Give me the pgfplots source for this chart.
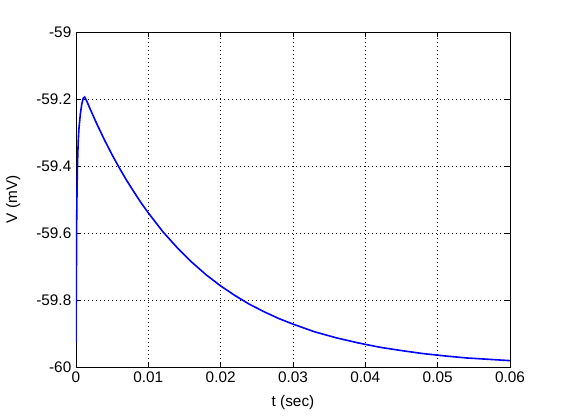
\documentclass[border=0pt]{standalone}
\usepackage{fontspec}
\setmainfont{Liberation Sans}
\usepackage{pgfplots}
\pgfplotsset{compat=1.18}
\begin{document}
\begin{tikzpicture}[x=1pt,y=1pt]
\path[use as bounding box] (0,0) rectangle (420.75,314.25);
\begin{axis}[
  at={(57pt,39pt)}, anchor=south west,
  scale only axis,
  width=325.5pt, height=251.25pt,
  xmin=0, xmax=0.06, ymin=-60, ymax=-59,
  xtick={0,0.01,0.02,0.03,0.04,0.05,0.06},
  xticklabels={0,0.01,0.02,0.03,0.04,0.05,0.06},
  ytick={-60,-59.8,-59.6,-59.4,-59.2,-59},
  yticklabels={-60,-59.8,-59.6,-59.4,-59.2,-59},
  scaled x ticks=false,
  tick align=inside,
  major tick length=3.5pt,
  tick style={black, line width=0.5pt},
  axis line style={black, line width=0.6pt},
  grid=major,
  major grid style={black, line width=0.6pt, dash pattern=on 0.75pt off 2.25pt},
  tick label style={font=\fontsize{11.5}{13}\selectfont},
  label style={font=\fontsize{11.5}{13}\selectfont},
  xlabel={t (sec)},
  ylabel={V (mV)},
  xlabel style={at={(axis description cs:0.5,-0.107)}, anchor=center},
  ylabel style={at={(axis description cs:-0.145,0.5)}, anchor=center},
  /pgf/number format/assume math mode=true,
]
\addplot[blue, line width=1.2pt] coordinates {
(0,-59.925) (0.00003,-59.80) (0.00005,-59.75) (0.00008,-59.62) (0.0001,-59.55)
(0.00015,-59.46) (0.0002,-59.40) (0.0003,-59.33) (0.0004,-59.29)
(0.0006,-59.245) (0.0008,-59.215) (0.001,-59.198) (0.0012,-59.194)
(0.0015,-59.207) (0.002,-59.232) (0.003,-59.280) (0.004,-59.325)
(0.005,-59.367) (0.006,-59.406) (0.007,-59.443) (0.008,-59.477)
(0.009,-59.510) (0.010,-59.540) (0.012,-59.596) (0.014,-59.644)
(0.016,-59.687) (0.018,-59.725) (0.020,-59.758) (0.022,-59.787)
(0.024,-59.813) (0.026,-59.835) (0.028,-59.855) (0.030,-59.872)
(0.033,-59.895) (0.036,-59.913) (0.039,-59.928) (0.042,-59.941)
(0.045,-59.951) (0.048,-59.960) (0.051,-59.967) (0.054,-59.973)
(0.057,-59.977) (0.060,-59.981)
};
\end{axis}
\end{tikzpicture}
\end{document}
